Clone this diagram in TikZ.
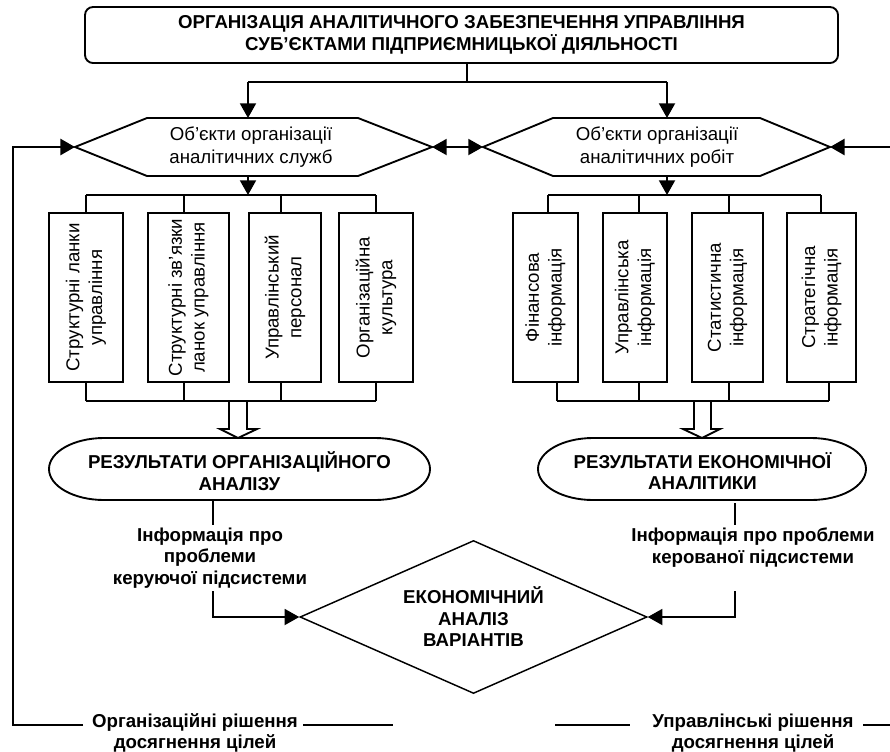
\documentclass[tikz,border=0pt]{standalone}
\usepackage{fontspec}
\setmainfont{Liberation Sans}
\usetikzlibrary{arrows.meta,shapes.geometric,calc}
\newcommand{\rgf}{\fontsize{14}{17}\selectfont}
\newcommand{\bdf}{\fontsize{14}{16.1}\selectfont\bfseries}
\begin{document}
\begin{tikzpicture}[x=0.75pt,y=-0.75pt,
  ln/.style={line width=1.4pt},
  fb/.style={line width=2.1pt},
  tip/.style={-{Triangle[length=11pt,width=12pt]}},
  vbox/.style={draw,line width=1.4pt,rotate=90,minimum width=169*0.75pt,align=center,font=\rgf,inner sep=1pt},
  lbl/.style={align=center,font=\bdf,inner sep=2pt},
  hx/.style={align=center,font=\rgf,inner sep=0pt}
]
\useasboundingbox (0,0) rectangle (890,751);
\clip (0,0) rectangle (890,751);

% top box
\node[draw,ln,rounded corners=6pt,minimum width=753*0.75pt,minimum height=56*0.75pt,align=center,font=\bdf] (top) at (461.5,35)
 {ОРГАНІЗАЦІЯ АНАЛІТИЧНОГО ЗАБЕЗПЕЧЕННЯ УПРАВЛІННЯ\\СУБ'ЄКТАМИ ПІДПРИЄМНИЦЬКОЇ ДІЯЛЬНОСТІ};

% hexagons
\draw[ln] (75,147) coordinate (hLw) -- (147,118) -- (358,118) -- (432,147) coordinate (hLe) -- (358,176) -- (147,176) -- cycle;
\node[hx] (hexL) at (251,147) {Об’єкти організації\\аналітичних служб};
\coordinate (hLn) at (248,118);
\coordinate (hLs) at (248,176);

\draw[ln] (483,147) coordinate (hRw) -- (553,118) -- (760,118) -- (830,147) coordinate (hRe) -- (760,176) -- (553,176) -- cycle;
\node[hx] (hexR) at (657,147) {Об’єкти організації\\аналітичних робіт};
\coordinate (hRn) at (667,118);
\coordinate (hRs) at (667,176);

% top connections
\coordinate (tj) at (467,82);
\draw[ln] (tj |- top.south) -- (tj);
\draw[ln] (hLn |- tj) -- (hRn |- tj);
\draw[ln,tip] (hLn |- tj) -- (hLn);
\draw[ln,tip] (hRn |- tj) -- (hRn);
\draw[ln,{Triangle[length=11pt,width=12pt]}-{Triangle[length=11pt,width=12pt]}] (hLe) -- (hRw);

% left boxes
\node[vbox,minimum height=74*0.75pt] (B1) at (86,297.5) {Структурні ланки\\управління};
\node[vbox,minimum height=81*0.75pt] (B2) at (188.5,297.5) {Структурні зв’язки\\ланок управління};
\node[vbox,minimum height=72*0.75pt] (B3) at (285,297.5) {Управлінський\\персонал};
\node[vbox,minimum height=74*0.75pt] (B4) at (376,297.5) {Організаційна\\культура};

\coordinate (lt1) at (86,195); \coordinate (lt2) at (184,195);
\coordinate (lt3) at (281,195); \coordinate (lt4) at (376,195);
\coordinate (lb1) at (86,401); \coordinate (lb2) at (184,401);
\coordinate (lb3) at (281,401); \coordinate (lb4) at (376,401);
\draw[ln] (lt1) -- (lt4);
\draw[ln] (lb1) -- (lb4);
\foreach \i in {1,2,3,4}{
  \draw[ln] (lt\i) -- (lt\i |- B\i.east);
  \draw[ln] (lb\i) -- (lb\i |- B\i.west);
}
\draw[ln,tip] (hLs) -- (hLs |- lt1);

% right boxes
\node[vbox,minimum height=65*0.75pt] (C1) at (545.5,297.5) {Фінансова\\інформація};
\node[vbox,minimum height=64*0.75pt] (C2) at (635,297.5) {Управлінська\\інформація};
\node[vbox,minimum height=71*0.75pt] (C3) at (727.5,297.5) {Статистична\\інформація};
\node[vbox,minimum height=69*0.75pt] (C4) at (821.5,297.5) {Стратегічна\\інформація};

\coordinate (rt1) at (548,195); \coordinate (rt2) at (639,195);
\coordinate (rt3) at (729,195); \coordinate (rt4) at (821,195);
\coordinate (rb1) at (557,401); \coordinate (rb2) at (639,401);
\coordinate (rb3) at (729,401); \coordinate (rb4) at (829,401);
\draw[ln] (rt1) -- (rt4);
\draw[ln] (rb1) -- (rb4);
\foreach \i in {1,2,3,4}{
  \draw[ln] (rt\i) -- (rt\i |- C\i.east);
  \draw[ln] (rb\i) -- (rb\i |- C\i.west);
}
\draw[ln,tip] (hRs) -- (hRs |- rt1);

% hollow arrows
\draw[ln] (229,401) -- (229,429) -- (220,429) -- (238,438) -- (257,429) -- (247,429) -- (247,401);
\draw[ln] (694,401) -- (694,429) -- (683,429) -- (702,438) -- (720,429) -- (711,429) -- (711,401);

% result shapes
\draw[ln] (104,438) -- (375,438) arc[start angle=90,end angle=-90,x radius=41.25pt,y radius=23.25pt]
  -- (104,500) arc[start angle=270,end angle=90,x radius=41.25pt,y radius=23.25pt] -- cycle;
\node[lbl] (resL) at (239.5,471) {РЕЗУЛЬТАТИ ОРГАНІЗАЦІЙНОГО\\АНАЛІЗУ};
\draw[ln] (593,438) -- (811,438) arc[start angle=90,end angle=-90,x radius=41.25pt,y radius=23.25pt]
  -- (593,500) arc[start angle=270,end angle=90,x radius=41.25pt,y radius=23.25pt] -- cycle;
\node[lbl] (resR) at (702.5,471) {РЕЗУЛЬТАТИ ЕКОНОМІЧНОЇ\\АНАЛІТИКИ};

% info labels
\node[lbl] (infL) at (210,558) {Інформація про\\проблеми\\керуючої підсистеми};
\node[lbl] (infR) at (753,547.5) {Інформація про проблеми\\керованої підсистеми};

% diamond
\node[diamond,draw,line width=1.1pt,minimum width=347*0.75pt,minimum height=153*0.75pt,shape aspect=2.27,inner sep=0pt,align=center,font=\bdf] (dia) at (473.5,617) {ЕКОНОМІЧНИЙ\\АНАЛІЗ\\ВАРІАНТІВ};

\coordinate (aL) at (213,501);
\draw[ln] (aL) -- (aL |- infL.north);
\draw[ln,tip] (aL |- infL.south) -- (aL |- dia.west) -- (dia.west);
\coordinate (aR) at (735,503);
\draw[ln] (aR) -- (aR |- infL.north);
\draw[ln,tip] (aR |- infL.south) -- (aR |- dia.east) -- (dia.east);

% decisions
\node[lbl] (decL) at (195,733) {Організаційні рішення\\досягнення цілей};
\node[lbl] (decR) at (753,733) {Управлінські рішення\\досягнення цілей};
\coordinate (fL) at (13,725);
\coordinate (fR) at (893,725);
\draw[fb,tip] (83,725) -- (fL) -- (fL |- hLw) -- (hLw);
\draw[fb] (303,725) -- (393,725);
\draw[fb] (555,725) -- (630,725);
\draw[fb,tip] (863,725) -- (fR) -- (fR |- hRe) -- (hRe);
\end{tikzpicture}
\end{document}
